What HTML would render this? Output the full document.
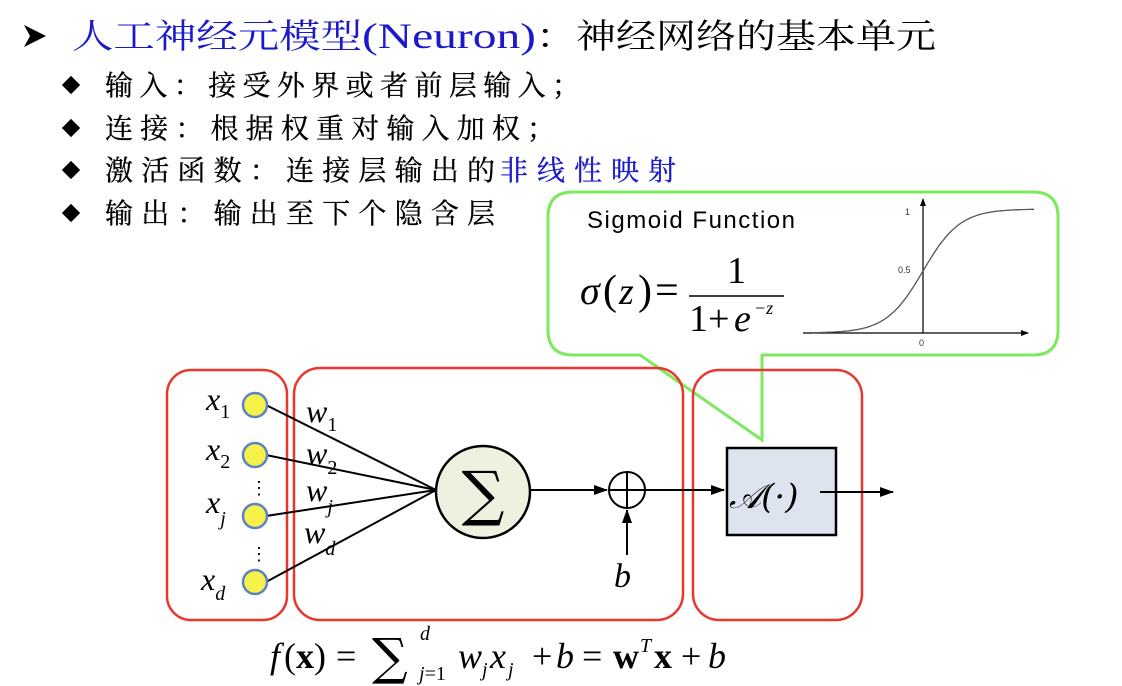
<!DOCTYPE html>
<html><head><meta charset="utf-8"><style>
html,body{margin:0;padding:0;background:#fff;}
svg{display:block;}
.cn{font-family:"Liberation Serif","Noto Serif CJK SC",serif;}
.m{font-family:"Liberation Serif","DejaVu Serif",serif;font-style:italic;}
</style></head><body>
<svg width="1122" height="686" viewBox="0 0 1122 686" xmlns="http://www.w3.org/2000/svg">
<defs>
<marker id="ar" markerWidth="8" markerHeight="6" refX="7" refY="3" orient="auto" markerUnits="userSpaceOnUse"><path d="M0,0 L8,3 L0,6 Z" fill="#000"/></marker>
<marker id="ar3" markerWidth="14" markerHeight="10" refX="13" refY="5" orient="auto" markerUnits="userSpaceOnUse"><path d="M0,0 L14,5 L0,10 Z" fill="#000"/></marker>
<marker id="ar2" markerWidth="8" markerHeight="6" refX="7" refY="3" orient="auto" markerUnits="userSpaceOnUse"><path d="M0,0 L8,3 L0,6 Z" fill="#000"/></marker>
</defs>
<g>
<path d="M24,25 L46,36 L24,47 L30,36 Z" fill="#000"/>
<text x="72" y="48" class="cn" font-size="34" fill="#1a1acc" textLength="290" lengthAdjust="spacingAndGlyphs">人工神经元模型</text>
<text x="362" y="48" font-family="Liberation Serif, serif" font-size="36" fill="#1a1acc" textLength="174" lengthAdjust="spacingAndGlyphs">(Neuron)</text>
<text x="536" y="48" class="cn" font-size="34" fill="#000" textLength="400" lengthAdjust="spacingAndGlyphs">：神经网络的基本单元</text>
</g>
<g class="cn" font-size="28" stroke="#000" stroke-width="0.3">
<path d="M62,85 l9,-9 l9,9 l-9,9 Z" fill="#000"/>
<text x="105" y="95" textLength="475">输入：接受外界或者前层输入；</text>
<path d="M62,128 l9,-9 l9,9 l-9,9 Z" fill="#000"/>
<text x="105" y="138" textLength="450">连接：根据权重对输入加权；</text>
<path d="M62,170 l9,-9 l9,9 l-9,9 Z" fill="#000"/>
<text x="105" y="180" textLength="390">激活函数：连接层输出的</text>
<text x="500" y="180" fill="#1a1acc" stroke="#1a1acc" textLength="176">非线性映射</text>
<path d="M62,213 l9,-9 l9,9 l-9,9 Z" fill="#000"/>
<text x="105" y="223" textLength="390">输出：输出至下个隐含层</text>
</g>
<g>
<path d="M573,192 L1033,192 Q1058,192 1058,217 L1058,330 Q1058,355 1033,355 L762,355 L762,440 L640,355 L573,355 Q548,355 548,330 L548,217 Q548,192 573,192 Z" fill="#fff" stroke="#7ee860" stroke-width="3"/>
<text x="587" y="228" font-family="Liberation Sans, sans-serif" font-size="24" fill="#000" textLength="208">Sigmoid Function</text>
<g>
<text x="580" y="304" class="m" font-size="40">σ</text>
<text x="603" y="304" font-family="Liberation Serif, serif" font-size="42">(</text>
<text x="619" y="304" class="m" font-size="38">z</text>
<text x="638" y="304" font-family="Liberation Serif, serif" font-size="42">)</text>
<text x="655" y="304" font-family="Liberation Serif, serif" font-size="42">=</text>
<text x="727" y="283" font-family="Liberation Serif, serif" font-size="38">1</text>
<line x1="689" y1="296" x2="784" y2="296" stroke="#000" stroke-width="1.5"/>
<text x="689" y="331" font-family="Liberation Serif, serif" font-size="38">1+</text>
<text x="734" y="331" class="m" font-size="38">e</text>
<text x="754" y="314" class="m" font-size="18">−z</text>
</g>
<g font-family="Liberation Sans, sans-serif" font-size="9" fill="#333">
<line x1="803" y1="333" x2="1028" y2="333" stroke="#000" stroke-width="1.2" marker-end="url(#ar2)"/>
<line x1="923" y1="333" x2="923" y2="199" stroke="#000" stroke-width="1.2" marker-end="url(#ar2)"/>
<path id="sig" fill="none" stroke="#555" stroke-width="1.3"/>
<text x="905" y="215">1</text>
<text x="898" y="273">0.5</text>
<text x="919" y="346">0</text>
</g>
</g>
<rect x="167" y="370" width="120" height="250" rx="24" fill="none" stroke="#e8372c" stroke-width="2.5"/>
<rect x="294" y="368" width="389" height="252" rx="26" fill="none" stroke="#e8372c" stroke-width="2.5"/>
<rect x="693" y="370" width="169" height="250" rx="26" fill="none" stroke="#e8372c" stroke-width="2.5"/>
<g stroke="#000" stroke-width="2">
<line x1="266" y1="405" x2="436" y2="490"/>
<line x1="266" y1="455" x2="436" y2="490"/>
<line x1="266" y1="516" x2="436" y2="490"/>
<line x1="266" y1="582" x2="436" y2="490"/>
</g>
<g fill="#f7f24a" stroke="#5b82c4" stroke-width="2.5">
<circle cx="255" cy="405" r="12"/><circle cx="255" cy="455" r="12"/><circle cx="255" cy="516" r="12"/><circle cx="255" cy="582" r="12"/>
</g>
<g class="m" font-size="32">
<text x="206" y="410">x<tspan font-size="20" dy="8" font-style="normal">1</tspan></text>
<text x="206" y="460">x<tspan font-size="20" dy="8" font-style="normal">2</tspan></text>
<text x="206" y="513">x<tspan font-size="20" dy="12">j</tspan></text>
<text x="201" y="590">x<tspan font-size="20" dy="10">d</tspan></text>
<text x="250" y="494" font-style="normal" font-size="18">⋮</text>
<text x="250" y="560" font-style="normal" font-size="18">⋮</text>
</g>
<g class="m" font-size="32">
<text x="306" y="422">w<tspan font-size="20" dy="9" font-style="normal">1</tspan></text>
<text x="306" y="464">w<tspan font-size="20" dy="10" font-style="normal">2</tspan></text>
<text x="306" y="501">w<tspan font-size="20" dy="12">j</tspan></text>
<text x="304" y="543">w<tspan font-size="20" dy="12">d</tspan></text>
</g>
<ellipse cx="483" cy="492" rx="47" ry="46" fill="#eef0e0" stroke="#000" stroke-width="2.5"/>
<text x="483" y="514" text-anchor="middle" font-family="DejaVu Serif, serif" font-size="60">∑</text>
<line x1="530" y1="490" x2="607" y2="490" stroke="#000" stroke-width="2" marker-end="url(#ar3)"/>
<g stroke="#000" stroke-width="2" fill="none">
<circle cx="627" cy="490" r="18"/>
<line x1="609" y1="490" x2="645" y2="490"/><line x1="627" y1="472" x2="627" y2="508"/>
<line x1="627" y1="555" x2="627" y2="510" marker-end="url(#ar3)"/>
</g>
<text x="614" y="587" class="m" font-size="34">b</text>
<line x1="645" y1="490" x2="724" y2="490" stroke="#000" stroke-width="2" marker-end="url(#ar3)"/>
<rect x="727" y="448" width="109" height="87" fill="#dde4f0" stroke="#000" stroke-width="2.5"/>
<text x="729" y="508" font-family="DejaVu Serif, serif" font-style="italic" font-size="34">𝒜(·)</text>
<line x1="820" y1="492" x2="893" y2="492" stroke="#000" stroke-width="2" marker-end="url(#ar3)"/>
<g font-family="Liberation Serif, serif" font-size="36">
<text x="270" y="668" font-style="italic">f</text>
<text x="284" y="668">(<tspan font-weight="bold">x</tspan>)</text>
<text x="336" y="668">=</text>
<text x="372" y="674" font-family="DejaVu Serif, serif" font-size="50">∑</text>
<text x="420" y="640" font-style="italic" font-size="20">d</text>
<text x="419" y="680" font-size="20"><tspan font-style="italic">j</tspan>=1</text>
<text x="458" y="668" font-style="italic">w</text>
<text x="482" y="676" font-style="italic" font-size="20">j</text>
<text x="490" y="668" font-style="italic">x</text>
<text x="508" y="676" font-style="italic" font-size="20">j</text>
<text x="532" y="668">+</text>
<text x="556" y="668" font-style="italic">b</text>
<text x="582" y="668">=</text>
<text x="613" y="668" font-weight="bold">w</text>
<text x="640" y="652" font-style="italic" font-size="20">T</text>
<text x="654" y="668" font-weight="bold">x</text>
<text x="681" y="668">+</text>
<text x="708" y="668" font-style="italic">b</text>
</g>
</svg>
<script>
const sigX=[-6,6];
(function(){
 const p=document.getElementById('sig');
 let d='';
 for(let i=0;i<=120;i++){
  const z=sigX[0]+(sigX[1]-sigX[0])*i/120;
  const x=923+z*18.5;
  const y=333-124*(1/(1+Math.exp(-z)));
  d+=(i?'L':'M')+x.toFixed(1)+','+y.toFixed(1);
 }
 p.setAttribute('d',d);
})();
</script>
</body></html>
